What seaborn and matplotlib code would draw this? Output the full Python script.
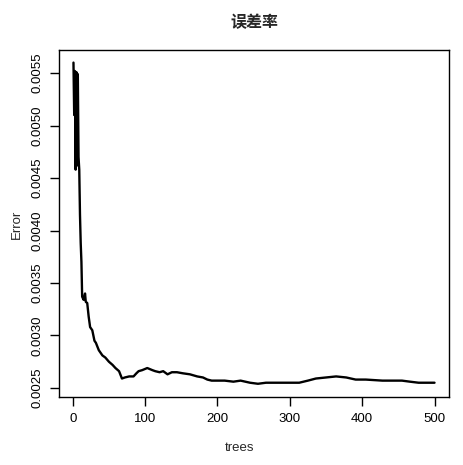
import matplotlib
matplotlib.use("Agg")
import matplotlib.pyplot as plt
import seaborn as sns
import pandas as pd

trees = [1, 2, 3, 4, 5, 6, 7, 8, 9, 10, 11, 12, 13, 15, 17, 18, 20, 22, 24, 27,
         30, 32, 36, 41, 45, 50, 55, 59, 64, 68, 72, 78, 84, 88, 91, 96, 103,
         110, 114, 120, 125, 131, 137, 144, 152, 162, 172, 180, 186, 192, 200,
         210, 222, 232, 245, 256, 267, 280, 295, 313, 325, 336, 350, 364, 378,
         391, 405, 428, 440, 455, 466, 478, 490, 500]
error = [0.00560, 0.00510, 0.00552, 0.00458, 0.00551, 0.00462, 0.00549, 0.00470,
         0.00458, 0.00415, 0.00388, 0.00370, 0.00337, 0.00334, 0.00340, 0.00332,
         0.00331, 0.00318, 0.00308, 0.00305, 0.00295, 0.00293, 0.00286, 0.00281,
         0.00279, 0.00275, 0.00272, 0.00269, 0.00266, 0.00259, 0.00260, 0.00261,
         0.00261, 0.00264, 0.00266, 0.00267, 0.00269, 0.00267, 0.00266, 0.00265,
         0.00266, 0.00263, 0.00265, 0.00265, 0.00264, 0.00263, 0.00261, 0.00260,
         0.00258, 0.00257, 0.00257, 0.00257, 0.00256, 0.00257, 0.00255, 0.00254,
         0.00255, 0.00255, 0.00255, 0.00255, 0.00257, 0.00259, 0.00260, 0.00261,
         0.00260, 0.00258, 0.00258, 0.00257, 0.00257, 0.00257, 0.00256, 0.00255,
         0.00255, 0.00255]
x_ticks = [0, 100, 200, 300, 400, 500]
y_ticks = [0.0025, 0.0030, 0.0035, 0.0040, 0.0045, 0.0050, 0.0055]
title = "误差率"
x_label = "trees"
y_label = "Error"

sns.set_style("white")
plt.rcParams["font.family"] = ["Liberation Sans", "Noto Sans CJK SC", "DejaVu Sans"]

df = pd.DataFrame({"trees": trees, "error": error})

fig = plt.figure(figsize=(4.64, 4.65), dpi=100)
ax = fig.add_axes([59 / 464, 1 - 397 / 465, 390 / 464, 347 / 465])
sns.lineplot(data=df, x="trees", y="error", ax=ax, color="black", linewidth=1.7,
             estimator=None)
ax.set_xlim(-19, 520)
ax.set_ylim(0.002414, 0.005720)
ax.set_xticks(x_ticks)
ax.set_xticklabels([str(t) for t in x_ticks])
ax.set_yticks(y_ticks)
ax.set_yticklabels([f"{v:.4f}" for v in y_ticks], rotation=90, va="center")
for s in ax.spines.values():
    s.set_visible(True)
    s.set_color("black")
    s.set_linewidth(1.0)
ax.tick_params(axis="both", direction="out", length=6.5, width=1.0, color="black",
               labelsize=9.5, labelcolor="black", pad=5, left=True, bottom=True)
ax.set_xlabel("")
ax.set_ylabel("")
fig.text(240 / 464, 1 - 448 / 465, x_label, ha="center", va="center", fontsize=9.5)
fig.text(17 / 464, 1 - 224 / 465, y_label, ha="center", va="center", fontsize=9.5,
         rotation=90)
fig.text(254 / 464, 1 - 22 / 465, title, ha="center", va="center", fontsize=11.5,
         fontweight="bold", family=["Noto Sans CJK SC", "DejaVu Sans"])
fig.savefig("out.png", dpi=100)
